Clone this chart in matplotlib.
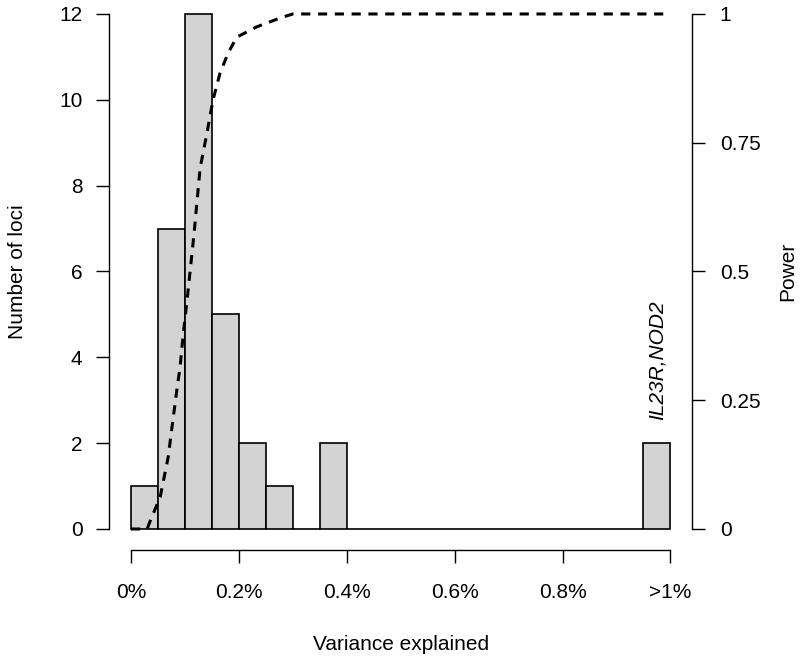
import numpy as np
import matplotlib
matplotlib.use("Agg")
import matplotlib.pyplot as plt

plt.rcParams["font.family"] = ["Liberation Sans", "DejaVu Sans"]
plt.rcParams["font.size"] = 15

# histogram of variance explained, bins of 0.05%
bin_edges = np.arange(0, 1.0001, 0.05)
counts = [1, 7, 12, 5, 2, 1, 0, 2, 0, 0, 0, 0, 0, 0, 0, 0, 0, 0, 0, 2]

# power curve
power_x = [0.0, 0.03, 0.035, 0.054, 0.069, 0.076, 0.085, 0.091, 0.097, 0.104,
           0.117, 0.128, 0.141, 0.152, 0.165, 0.18, 0.196, 0.233, 0.276, 0.30, 1.0]
power_y = [0.0, 0.0, 0.014, 0.062, 0.14, 0.198, 0.27, 0.315, 0.38, 0.445,
           0.575, 0.70, 0.77, 0.833, 0.885, 0.924, 0.955, 0.975, 0.992, 1.0, 1.0]

x_ticks = [0, 0.2, 0.4, 0.6, 0.8, 1.0]
x_labels = ["0%", "0.2%", "0.4%", "0.6%", "0.8%", ">1%"]
y_ticks = [0, 2, 4, 6, 8, 10, 12]
p_ticks = [0, 0.25, 0.5, 0.75, 1]
p_labels = ["0", "0.25", "0.5", "0.75", "1"]

fig = plt.figure(figsize=(8, 6.57), dpi=100)
ax = fig.add_axes([0.1368, 0.1635, 0.7282, 0.8466])

ax.bar(bin_edges[:-1], counts, width=0.05, align="edge", color="#d3d3d3",
       edgecolor="black", linewidth=1.2)
ax.text(0.975, 2.55, "IL23R,NOD2", rotation=90, style="italic",
        ha="center", va="bottom")

ax.set_xlim(-0.04, 1.04)
ax.set_ylim(-0.48, 12.48)
ax.set_xticks(x_ticks)
ax.set_xticklabels(x_labels)
ax.set_yticks(y_ticks)
for s in ["top", "right"]:
    ax.spines[s].set_visible(False)
ax.spines["left"].set_bounds(0, 12)
ax.spines["bottom"].set_bounds(0, 1)
for s in ["left", "bottom"]:
    ax.spines[s].set_linewidth(1.0)
ax.tick_params(axis="y", length=9.4, width=1.0, pad=10)
ax.tick_params(axis="x", length=9.4, width=1.0, pad=14.5)
ax.set_xlabel("Variance explained")
ax.xaxis.set_label_coords(0.5, -0.17)
ax.xaxis.label.set_va("center")
ax.set_ylabel("Number of loci")
ax.yaxis.set_label_coords(-0.157, 0.5)
ax.yaxis.label.set_va("center")

ax2 = ax.twinx()
ax2.plot(power_x, power_y, color="black", linestyle=(0, (3, 2.5)), linewidth=2.2)
ax2.set_ylim(-0.04, 1.04)
ax2.set_yticks(p_ticks)
ax2.set_yticklabels(p_labels)
for s in ["top", "left", "bottom"]:
    ax2.spines[s].set_visible(False)
ax2.spines["right"].set_bounds(0, 1)
ax2.spines["right"].set_linewidth(1.0)
ax2.tick_params(axis="y", length=9.4, width=1.0, pad=10.5)
ax2.set_ylabel("Power")
ax2.yaxis.set_label_coords(1.165, 0.5)
ax2.yaxis.label.set_va("center")

fig.savefig("out.png", dpi=100)
